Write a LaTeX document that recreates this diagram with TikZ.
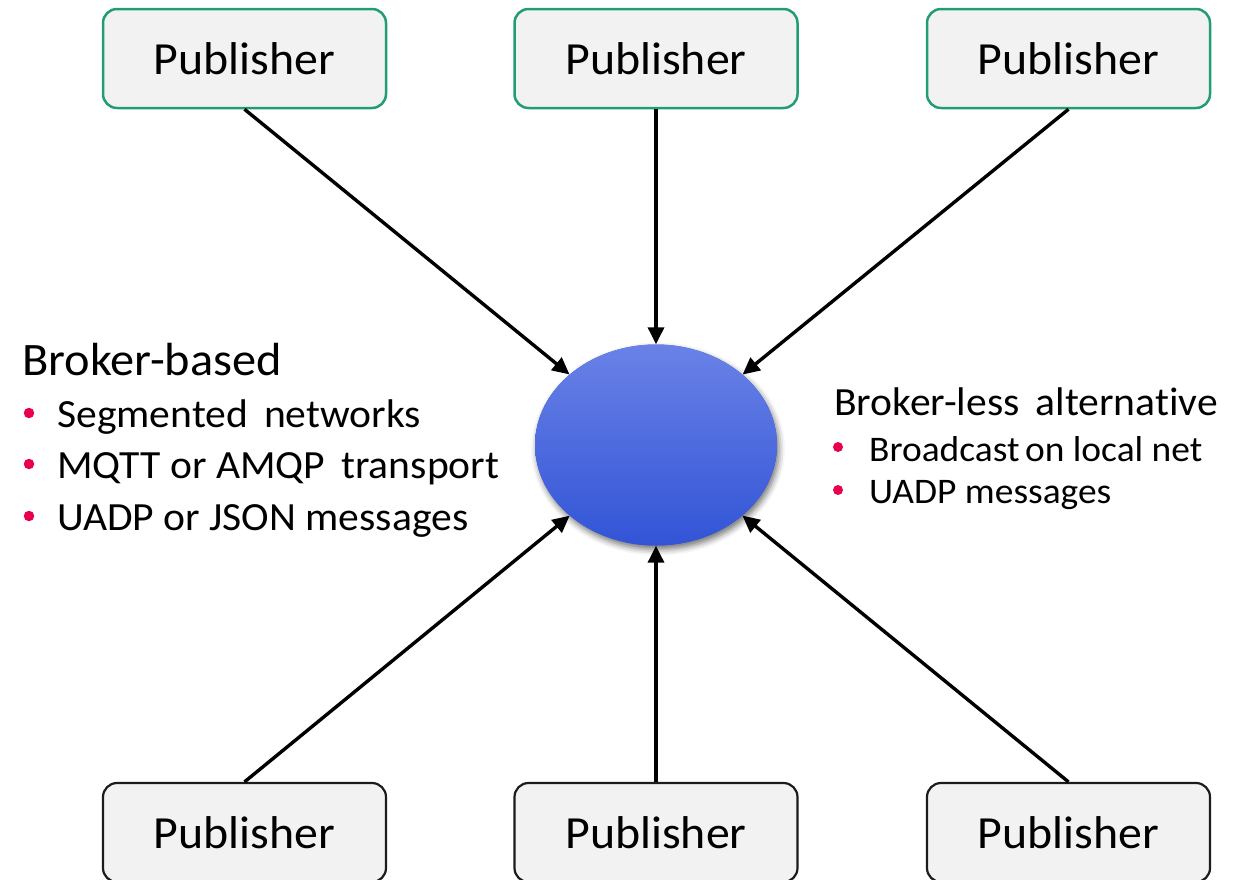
\documentclass[tikz,border=0pt]{standalone}
\usepackage{fontspec}
\setmainfont{Carlito}[Ligatures=CommonOff, FakeStretch=1.04]
\usetikzlibrary{arrows.meta,shapes.geometric,shadows.blur}
\definecolor{pubfill}{RGB}{242,242,242}
\definecolor{pubgreen}{RGB}{34,156,116}
\definecolor{pubdark}{RGB}{28,28,28}
\definecolor{bullred}{RGB}{232,0,78}
\definecolor{hubtop}{RGB}{106,130,231}
\definecolor{hubbot}{RGB}{50,84,214}
\begin{document}
\begin{tikzpicture}[x=1pt,y=-1pt,
  pub/.style={rectangle, rounded corners=14pt, fill=pubfill, line width=2.5pt,
    minimum width=283pt, minimum height=99pt, inner sep=0pt,
    font=\fontsize{46}{52}\selectfont},
  pubtop/.style={pub, draw=pubgreen},
  pubbot/.style={pub, draw=pubdark, line width=2.2pt},
  hub/.style={ellipse, minimum width=242pt, minimum height=201pt, inner sep=0pt,
    fill=hubbot,
    blur shadow={shadow xshift=2pt, shadow yshift=-4pt, shadow opacity=55, shadow blur radius=6pt}},
  flow/.style={line width=3.4pt, -{Triangle[length=17pt,width=16pt]}},
  headL/.style={anchor=base west, inner sep=0pt, font=\fontsize{46.5}{52}\selectfont},
  itemL/.style={anchor=base west, inner sep=0pt, font=\fontsize{40}{46}\selectfont},
  headR/.style={anchor=base west, inner sep=0pt, font=\fontsize{40}{46}\selectfont},
  itemR/.style={anchor=base west, inner sep=0pt, font=\fontsize{36}{42}\selectfont},
  dotL/.style={circle, fill=bullred, inner sep=0pt, minimum size=10.5pt},
  dotR/.style={circle, fill=bullred, inner sep=0pt, minimum size=10pt}
]
\useasboundingbox (0,0) rectangle (1243,879);
\clip (0,0) rectangle (1243,879);

% publishers
\node[pubtop] (p1) at (244.5,58.5) {Publisher};
\node[pubtop] (p2) at (656,58.5) {Publisher};
\node[pubtop] (p3) at (1068.5,58.5) {Publisher};
\node[pubbot] (p4) at (244.5,832.5) {Publisher};
\node[pubbot] (p5) at (656,832.5) {Publisher};
\node[pubbot] (p6) at (1068.5,832.5) {Publisher};

% broker, with a vertical gradient laid over its base fill
\node[hub] (hub) at (656,445) {};
\shade[top color=hubtop, bottom color=hubbot] (hub.center) ellipse [x radius=121, y radius=100.5];

% message flows
\foreach \p in {p1,p2,p3}
  \draw[flow] (\p.south) -- (hub);
\foreach \p in {p4,p5,p6}
  \draw[flow] (\p.north) -- (hub);

% broker-based notes
\node[headL] (bb) at (22,375) {Broker-based};
\node[dotL] (bd1) at (29,413) {};
\node[itemL] (bi1) at (57,427) {Segmented\, networks};
\node[dotL] (bd2) at (29,464) {};
\node[itemL] (bi2) at (57,478) {MQTT or AMQP\, transport};
\node[dotL] (bd3) at (29,516) {};
\node[itemL] (bi3) at (57,530) {UADP or JSON messages};

% broker-less notes
\node[headR] (bl) at (834,415) {Broker-less\, alternative};
\node[dotR] (rd1) at (838,447) {};
\node[itemR] (ri1) at (869,461) {Broadcast\kern-3pt{} on local net};
\node[dotR] (rd2) at (838,490) {};
\node[itemR] (ri2) at (869,503) {UADP messages};
\end{tikzpicture}
\end{document}
